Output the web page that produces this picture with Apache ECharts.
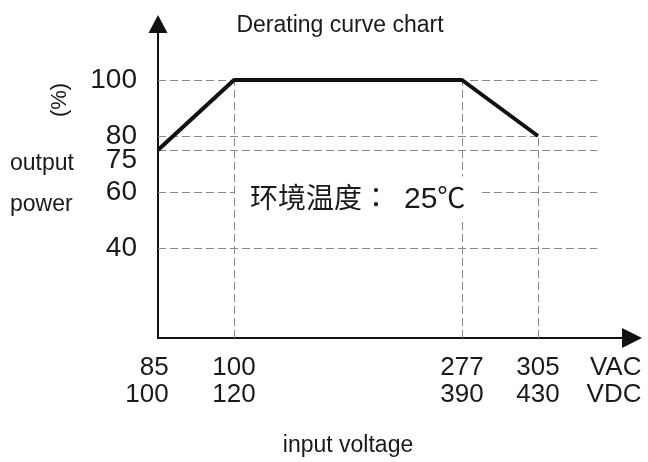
<!DOCTYPE html>
<html>
<head>
<meta charset="utf-8">
<script src="https://cdn.jsdelivr.net/npm/echarts@6/dist/echarts.min.js"></script>
<style>html,body{margin:0;padding:0;background:#fff;}#c{width:648px;height:462px;}</style>
</head>
<body>
<div id="c"></div>
<script>
// ---- data ----
const vacLabels = ['85', '100', '277', '305'];
const vdcLabels = ['100', '120', '390', '430'];
const unitLabels = ['VAC', 'VDC'];
const slotIndex = [0, 1, 4, 5];          // schematic (non-linear) slot of each voltage on the axis
const unitSlot = 6;
const powerValues = [75, 100, 100, 80];
const yTicks = [40, 60, 75, 80, 100];
const titleText = 'Derating curve chart';
const xName = 'input voltage';
const yNameLines = ['output', 'power'];
const yUnit = '(%)';
const ambientParts = ['环境温度', '：', '25', '℃'];

// ---- layout constants ----
const yMin = 7.86, yMax = 120;
const xMin = 0, xMax = 6.237;
const gridLineEnd = 5.78;

const SANS = '"Liberation Sans",Arial,sans-serif';
const CJK = '"Noto Sans CJK SC",sans-serif';
const INK = '#1a1a1a';
const dash = {color: '#8a8a8a', width: 1, type: [8, 4]};

const seriesData = slotIndex.map((s, i) => [s, powerValues[i]]);
const markData = yTicks.map(v => [{coord: [xMin, v]}, {coord: [gridLineEnd, v]}])
  .concat(slotIndex.slice(1).map((s, i) => [{coord: [s, yMin]}, {coord: [s, powerValues[i + 1]]}]));

const chart = echarts.init(document.getElementById('c'));
chart.setOption({
  animation: false,
  backgroundColor: '#fff',
  grid: {left: 158, top: 24, width: 474, height: 314, outerBoundsMode: 'none'},
  xAxis: {
    type: 'value', min: xMin, max: xMax,
    axisLine: {onZero: false, symbol: ['none', 'triangle'], symbolSize: [20, 20], lineStyle: {color: '#111', width: 2}},
    axisTick: {show: false},
    splitLine: {show: false},
    axisLabel: {
      customValues: slotIndex.concat([unitSlot]),
      margin: 16,
      formatter: function (v) {
        const i = slotIndex.indexOf(v);
        if (i === 0) return '{f|' + vacLabels[i] + '}\n{f|' + vdcLabels[i] + '}';
        if (i > 0) return '{a|' + vacLabels[i] + '}\n{a|' + vdcLabels[i] + '}';
        if (v === unitSlot) return '{a|' + unitLabels[0] + '}\n{a|' + unitLabels[1] + '}';
        return '';
      },
      rich: {
        a: {fontSize: 26, fontFamily: SANS, color: INK, lineHeight: 27, align: 'right'},
        f: {fontSize: 26, fontFamily: SANS, color: INK, lineHeight: 27, align: 'right', padding: [0, 22, 0, 0]}
      }
    }
  },
  yAxis: {
    type: 'value', min: yMin, max: yMax,
    axisLine: {show: true, onZero: false, symbol: ['none', 'triangle'], symbolSize: [19, 18], lineStyle: {color: '#111', width: 2}},
    axisTick: {show: false},
    splitLine: {show: false},
    axisLabel: {
      customValues: yTicks,
      margin: 21,
      formatter: function (v) {
        if (v === 75) return '{lo|' + v + '}';
        return '{n|' + v + '}';
      },
      rich: {
        n: {fontSize: 28, fontFamily: SANS, color: INK},
        lo: {fontSize: 28, fontFamily: SANS, color: INK, padding: [20, 0, 0, 0]}
      }
    }
  },
  series: [{
    type: 'line',
    data: seriesData,
    symbol: 'none',
    z: 5,
    lineStyle: {color: '#111', width: 4},
    markLine: {silent: true, symbol: 'none', label: {show: false}, lineStyle: dash, data: markData}
  }],
  graphic: [
    {type: 'text', z: 100, style: {text: titleText, x: 340, y: 26, align: 'center', verticalAlign: 'middle', fontSize: 23, fontFamily: SANS, fill: INK}},
    {type: 'text', z: 100, style: {text: xName, x: 348, y: 446, align: 'center', verticalAlign: 'middle', fontSize: 23, fontFamily: SANS, fill: INK}},
    {type: 'text', z: 100, style: {text: yNameLines[0], x: 10, y: 164, align: 'left', verticalAlign: 'middle', fontSize: 23, fontFamily: SANS, fill: INK}},
    {type: 'text', z: 100, style: {text: yNameLines[1], x: 10, y: 205, align: 'left', verticalAlign: 'middle', fontSize: 23, fontFamily: SANS, fill: INK}},
    {type: 'text', z: 100, x: 60, y: 100, rotation: Math.PI / 2, style: {text: yUnit, x: 0, y: 0, align: 'center', verticalAlign: 'middle', fontSize: 22, fontFamily: SANS, fill: INK}},
    {type: 'text', z: 100, style: {
      text: '{c|' + ambientParts[0] + '}{p|' + ambientParts[1] + '}{d|' + ambientParts[2] + '}{c|' + ambientParts[3] + '}',
      x: 235, y: 197, align: 'left', verticalAlign: 'middle',
      backgroundColor: '#fff', padding: [3, 16, 3, 15],
      rich: {
        c: {fontSize: 28, fontFamily: CJK, fill: INK},
        p: {fontSize: 28, fontFamily: '"Noto Sans CJK JP",sans-serif', fill: INK, padding: [0, 14, 0, 0]},
        d: {fontSize: 30, fontFamily: SANS, fill: INK, padding: [5, 0, 0, 0]}
      }
    }}
  ]
});
</script>
</body>
</html>
